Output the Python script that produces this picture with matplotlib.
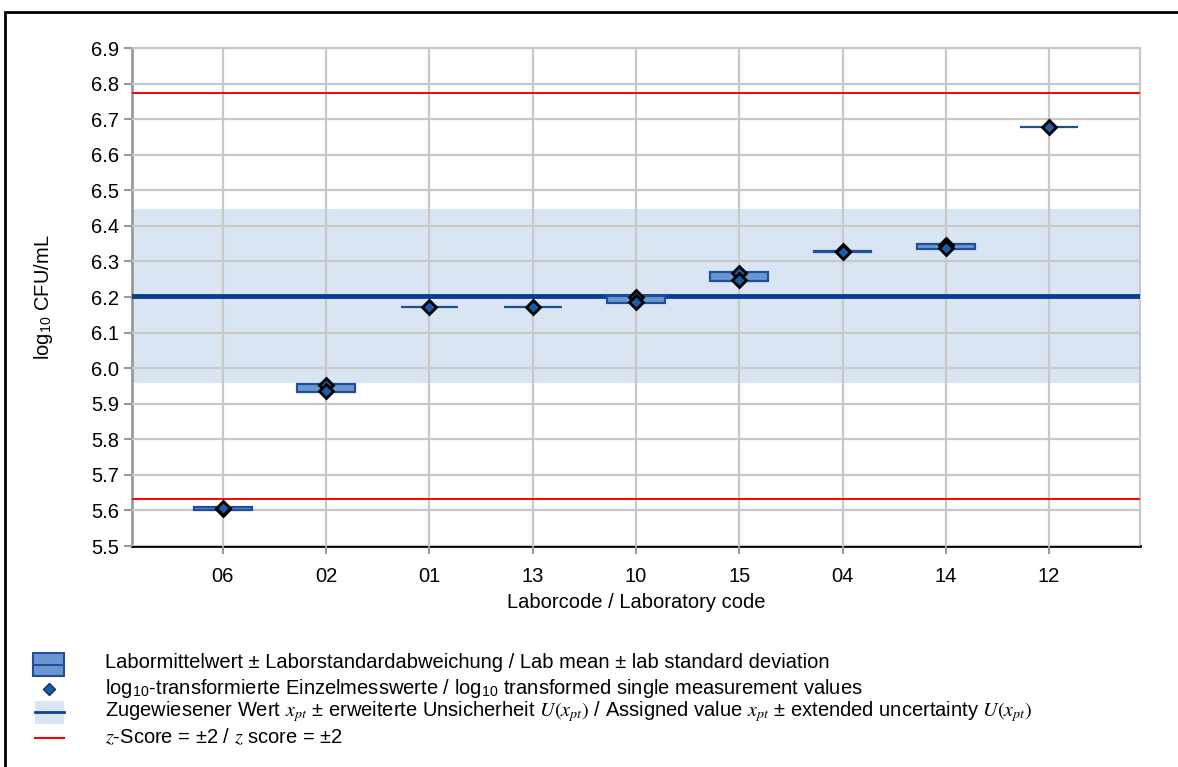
import numpy as np
import matplotlib
matplotlib.use("Agg")
import matplotlib.pyplot as plt
from matplotlib.patches import Rectangle
from matplotlib.lines import Line2D

plt.rcParams['font.family'] = ['Liberation Sans', 'DejaVu Sans']
plt.rcParams['mathtext.fontset'] = 'stix'

# Laborcodes und Einzelmesswerte (log10 KBE/mL)
labs = ['06', '02', '01', '13', '10', '15', '04', '14', '12']
values = [
    [5.603, 5.608],
    [5.953, 5.936],
    [6.171],
    [6.171],
    [6.199, 6.185],
    [6.267, 6.249],
    [6.329, 6.326],
    [6.347, 6.337],
    [6.677],
]

# Zugewiesener Wert, Unsicherheit, Standardabweichung für die Eignungsprüfung
x_pt = 6.202
U_xpt = 0.245
sigma_pt = 0.2855

yticks = np.round(np.arange(5.5, 6.91, 0.1), 1)

FS = 14.5
W, H = 1178, 767
fig = plt.figure(figsize=(W / 100, H / 100), dpi=100)
ax = fig.add_axes([132 / W, 1 - 546 / H, (1140 - 132) / W, (546 - 48) / H])

x = np.arange(len(labs))
ax.set_xlim(-0.88, len(labs) - 1 + 0.88)
ax.set_ylim(5.5, 6.9)

# Band: zugewiesener Wert ± erweiterte Unsicherheit
ax.axhspan(x_pt - U_xpt, x_pt + U_xpt, color='#dae5f3', lw=0, zorder=0)

# Gitter (Achsen-zorder 2.5, also über dem Band)
ax.set_yticks(yticks)
ax.set_yticklabels([f'{v:.1f}' for v in yticks])
ax.set_xticks(x)
ax.set_xticklabels(labs)
ax.grid(True, color='#c8c8c8', lw=1.6)
ax.set_axisbelow(False)

# z-Score Grenzen und zugewiesener Wert
ax.axhline(x_pt + 2 * sigma_pt, color='#ff0000', lw=1.4, zorder=2.6)
ax.axhline(x_pt - 2 * sigma_pt, color='#ff0000', lw=1.4, zorder=2.6)
ax.axhline(x_pt, color='#0a3d8f', lw=3.5, zorder=2.7)

# Labormittelwert ± Laborstandardabweichung
box_w = 0.56
for xi, vals in zip(x, values):
    vals = np.array(vals)
    m = vals.mean()
    s = vals.std(ddof=1) if len(vals) > 1 else 0.0
    ax.add_patch(Rectangle((xi - box_w / 2, m - s), box_w, 2 * s,
                           facecolor='#6b97d0', edgecolor='#1f4f9c',
                           lw=1.6, zorder=3))
    ax.plot(np.full(len(vals), xi), vals, ls='none', marker='D', ms=7,
            mfc='#1f5aa6', mec='black', mew=2, zorder=4)

# Achsen
for side in ['top', 'right']:
    ax.spines[side].set_color('#c8c8c8')
    ax.spines[side].set_linewidth(1.6)
ax.spines['left'].set_color('#999999')
ax.spines['left'].set_linewidth(2)
ax.spines['bottom'].set_color('black')
ax.spines['bottom'].set_linewidth(2)
ax.tick_params(axis='both', colors='#999999', width=1.5, length=6,
               labelsize=FS, labelcolor='black')
ax.tick_params(axis='x', pad=9)
ax.set_ylabel(r'log$_{\mathregular{10}}$ CFU/mL', fontsize=FS, labelpad=26)
ax.set_xlabel('Laborcode / Laboratory code', fontsize=FS, labelpad=5)

# Rahmen
fig.add_artist(Rectangle((5 / W, -0.1), 1.2, 1.1 - 12 / H, transform=fig.transFigure,
                         fill=False, edgecolor='black', lw=2))

# Legende
def fy(py):
    return 1 - py / H

def fx(px):
    return px / W

fig.add_artist(Rectangle((fx(33), fy(676)), fx(64) - fx(33), fy(653) - fy(676),
                         transform=fig.transFigure, facecolor='#6b97d0',
                         edgecolor='#1f4f9c', lw=1.5))
fig.add_artist(Line2D([fx(33), fx(64)], [fy(665), fy(665)], transform=fig.transFigure,
                      color='#1f4f9c', lw=1.5))
fig.add_artist(Line2D([fx(49)], [fy(689)], transform=fig.transFigure, ls='none',
                      marker='D', ms=6, mfc='#1f5aa6', mec='#0b2f66', mew=1))
fig.add_artist(Rectangle((fx(35), fy(724)), fx(64) - fx(35), fy(701) - fy(724),
                         transform=fig.transFigure, facecolor='#dae5f3', lw=0))
fig.add_artist(Line2D([fx(35), fx(64)], [fy(712), fy(712)], transform=fig.transFigure,
                      color='#0b4397', lw=2))
fig.add_artist(Line2D([fx(35), fx(64)], [fy(738), fy(738)], transform=fig.transFigure,
                      color='#ff0000', lw=1.5))

legend_texts = [
    'Labormittelwert ± Laborstandardabweichung / Lab mean ± lab standard deviation',
    r'log$_{\mathregular{10}}$-transformierte Einzelmesswerte / log$_{\mathregular{10}}$ transformed single measurement values',
    r'Zugewiesener Wert $x_{pt}$ ± erweiterte Unsicherheit $U(x_{pt})$ / Assigned value $x_{pt}$ ± extended uncertainty $U(x_{pt})$',
    r'$z$-Score = ±2 / $z$ score = ±2',
]
for py, t in zip([662, 689, 712, 737], legend_texts):
    fig.text(fx(105), fy(py), t, fontsize=FS, va='center', ha='left')

fig.savefig('out.png', dpi=100)
